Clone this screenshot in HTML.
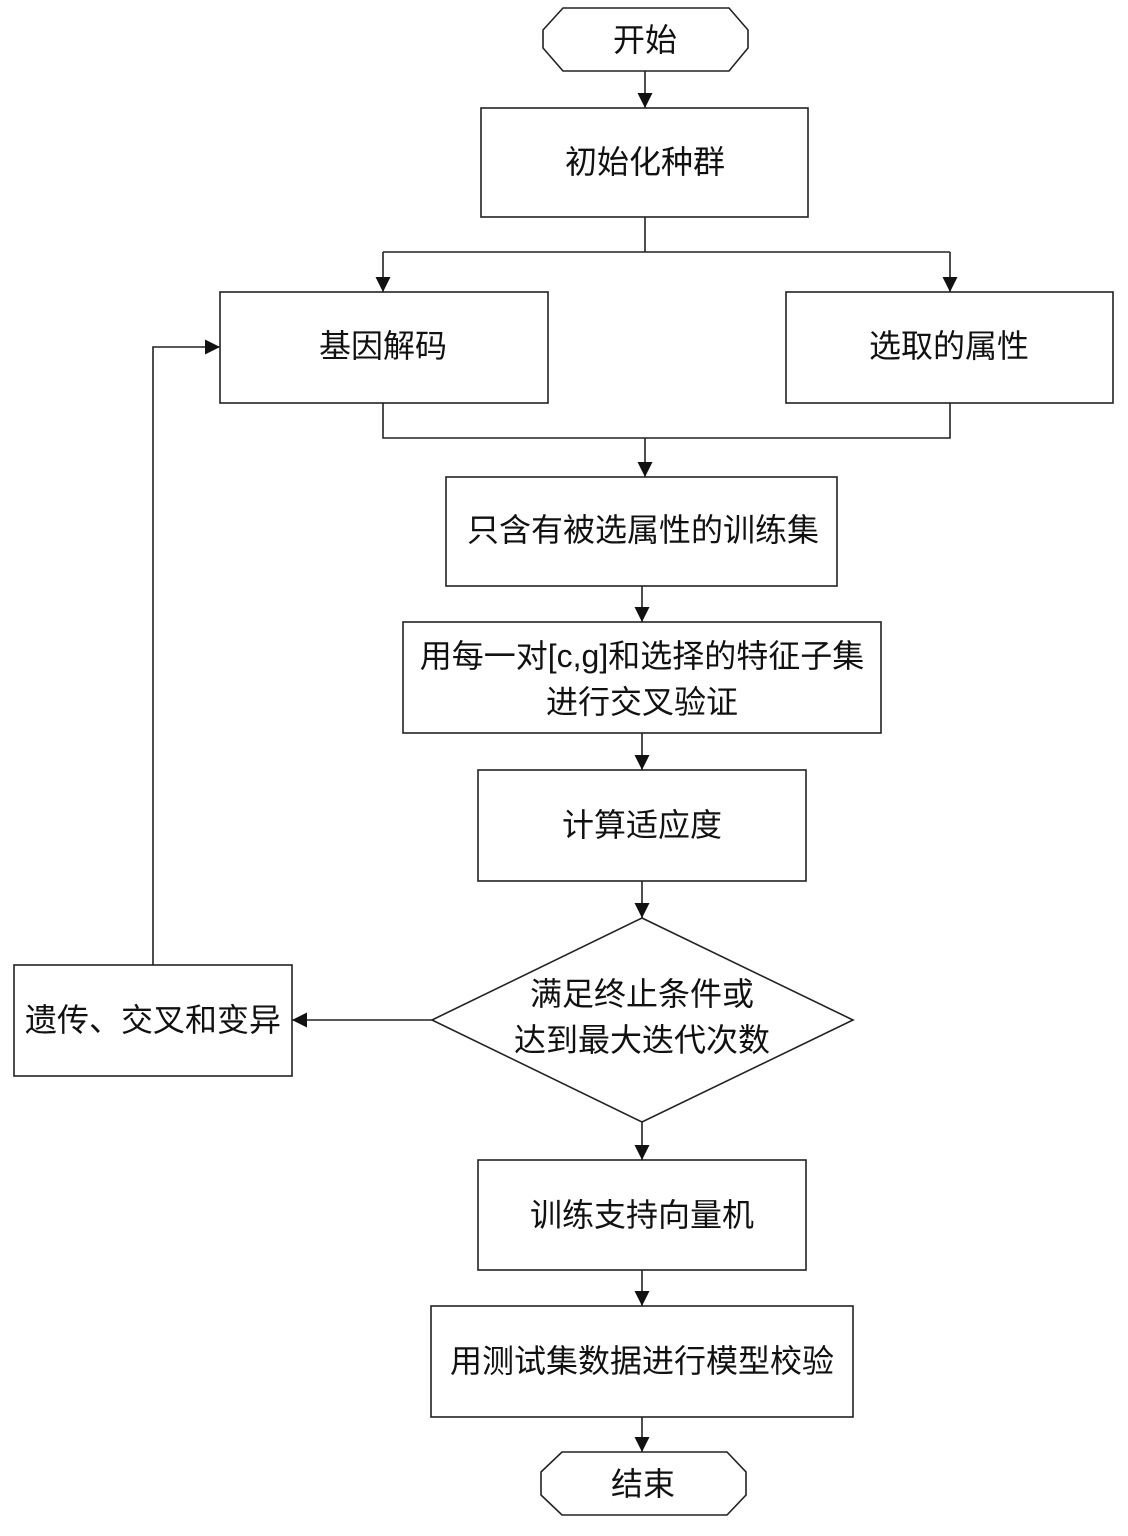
<!DOCTYPE html>
<html><head><meta charset="utf-8"><style>
html,body{margin:0;padding:0;background:#fff}
text{font-family:"Liberation Sans","Noto Sans CJK SC",sans-serif;font-size:32px;fill:#111;text-anchor:middle;dominant-baseline:central}
</style></head><body>
<svg width="1128" height="1531" viewBox="0 0 1128 1531" xmlns="http://www.w3.org/2000/svg">
<defs><marker id="a" markerWidth="15" markerHeight="18" refX="15" refY="9" orient="auto" markerUnits="userSpaceOnUse"><path d="M0,1.5 L15,9 L0,16.5 Z" fill="#111"/></marker></defs>
<g fill="none" stroke="#222" stroke-width="1.6">
<path d="M563,8 L729,8 L748,30 L748,48 L729,71 L563,71 L543,48 L543,30 Z"/>
<path d="M562,1452 L727,1452 L746,1472 L746,1495 L727,1515 L562,1515 L541,1495 L541,1472 Z"/>
<rect x="481" y="108" width="327" height="109"/>
<rect x="220" y="292" width="328" height="111"/>
<rect x="786" y="292" width="327" height="111"/>
<rect x="446" y="477" width="391" height="109"/>
<rect x="403" y="622" width="478" height="111"/>
<rect x="478" y="770" width="328" height="111"/>
<path d="M642,918 L853,1020 L642,1122 L432,1020 Z"/>
<rect x="14" y="965" width="278" height="111"/>
<rect x="478" y="1160" width="328" height="110"/>
<rect x="431" y="1306" width="422" height="111"/>
<path d="M645,71 L645,108" marker-end="url(#a)"/>
<path d="M645,217 L645,252 M383,252 L950,252"/>
<path d="M383,252 L383,292" marker-end="url(#a)"/>
<path d="M950,252 L950,292" marker-end="url(#a)"/>
<path d="M383,403 L383,438 L950,438 L950,403"/>
<path d="M645,438 L645,477" marker-end="url(#a)"/>
<path d="M642,586 L642,622" marker-end="url(#a)"/>
<path d="M642,733 L642,770" marker-end="url(#a)"/>
<path d="M642,881 L642,918" marker-end="url(#a)"/>
<path d="M432,1020 L292,1020" marker-end="url(#a)"/>
<path d="M153,965 L153,347 L220,347" marker-end="url(#a)"/>
<path d="M642,1122 L642,1160" marker-end="url(#a)"/>
<path d="M642,1270 L642,1306" marker-end="url(#a)"/>
<path d="M642,1417 L642,1452" marker-end="url(#a)"/>
</g>
<text x="645" y="40">开始</text>
<text x="645" y="162">初始化种群</text>
<text x="383" y="346">基因解码</text>
<text x="949" y="346">选取的属性</text>
<text x="643" y="530">只含有被选属性的训练集</text>
<text x="642" y="656">用每一对[c,g]和选择的特征子集</text>
<text x="642" y="702">进行交叉验证</text>
<text x="642" y="825">计算适应度</text>
<text x="642" y="994">满足终止条件或</text>
<text x="642" y="1040">达到最大迭代次数</text>
<text x="153" y="1020">遗传、交叉和变异</text>
<text x="642" y="1215">训练支持向量机</text>
<text x="642" y="1361">用测试集数据进行模型校验</text>
<text x="643" y="1484">结束</text>
</svg>
</body></html>
